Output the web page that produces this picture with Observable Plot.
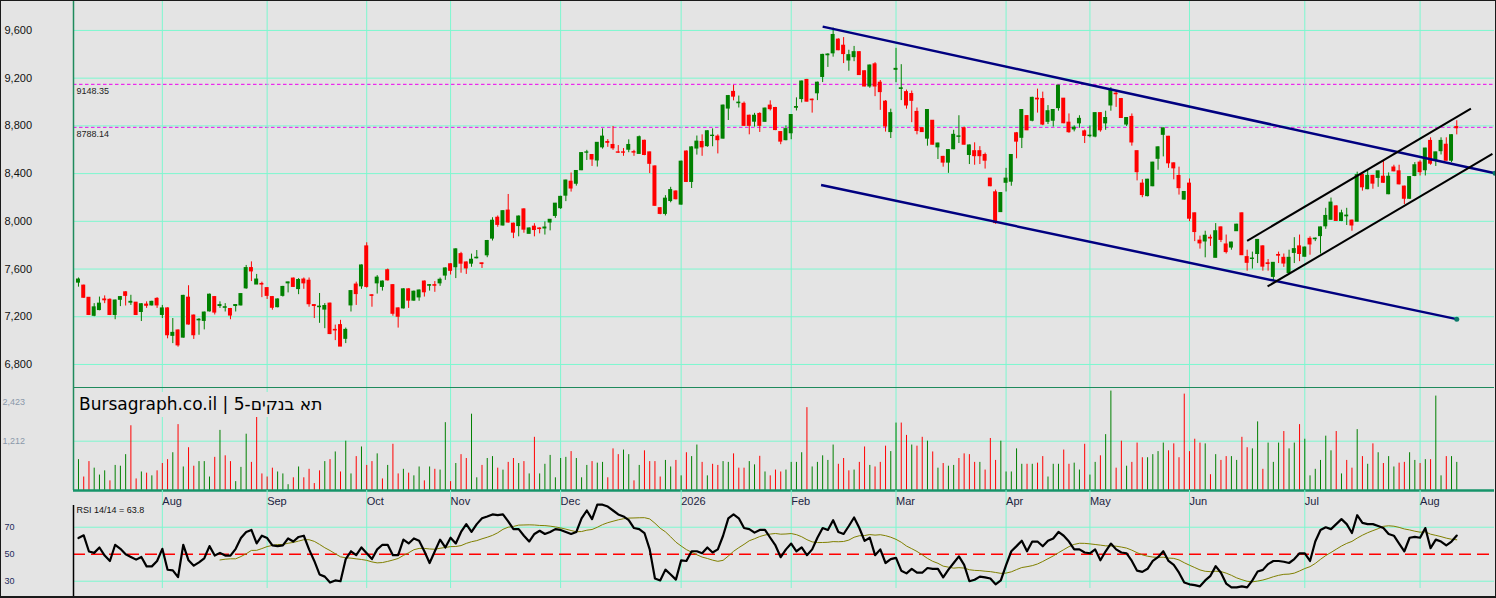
<!DOCTYPE html>
<html><head><meta charset="utf-8">
<script src="https://cdn.jsdelivr.net/npm/d3@7"></script>
<script src="https://cdn.jsdelivr.net/npm/@observablehq/plot@0.6"></script>
<style>
html,body{margin:0;padding:0;background:#E4E4E4;}
#chart{position:relative;width:1496px;height:598px;background:#E4E4E4;overflow:hidden;font-family:"Liberation Sans",Arial,sans-serif;}
#title{position:absolute;left:76px;top:392px;height:25px;line-height:25px;padding:0 3px;background:#E4E4E4;font-size:17px;color:#000;white-space:nowrap;z-index:5;font-family:"DejaVu Sans",sans-serif;}
#frame{position:absolute;left:0;top:0;width:1496px;height:598px;box-sizing:border-box;border:1px solid #1a1a1a;border-bottom-width:2px;pointer-events:none;z-index:6;}
</style></head>
<body><div id="chart"><div id="title"></div><div id="frame"></div></div>
<script>
// ---------------- data ----------------
const titleText = "Bursagraph.co.il | תא בנקים-5";
const monthLabels = ["Aug","Sep","Oct","Nov","Dec","2026","Feb","Mar","Apr","May","Jun","Jul","Aug"];
const monthStart = [16,36,55,71,92,115,136,156,177,193,212,234,256];
const priceTicks = [6800,7200,7600,8000,8400,8800,9200,9600];
const levels = [9148.35, 8788.14];
const volLabels = [2423, 1212];
const rsiTicks = [70, 50, 30];

const openP = [7486,7461,7359,7208,7256,7345,7342,7215,7342,7405,
7318,7318,7240,7302,7295,7350,7215,7270,7040,7085,
7025,7360,7210,7170,7165,7245,7365,7290,7275,7265,
7290,7295,7438,7608,7470,7475,7440,7365,7280,7375,
7480,7520,7432,7512,7502,7298,7280,7260,7310,7090,
7130,7015,7295,7470,7455,7790,7380,7480,7450,7590,
7465,7270,7270,7430,7335,7362,7495,7460,7465,7480,
7545,7640,7615,7725,7655,7645,7690,7648,7715,7855,
8030,7965,8090,7980,7960,8100,7895,7955,7940,7940,
7990,8045,8110,8215,8332,8315,8428,8575,8556,8510,
8620,8665,8640,8578,8578,8600,8580,8565,8675,8578,
8460,8110,8062,8170,8250,8140,8585,8330,8610,8665,
8630,8715,8710,8693,8945,9085,8990,8985,8885,8835,
8900,8834,8970,8950,8748,8680,8738,8952,9025,9185,
9020,9073,9210,9392,9408,9523,9472,9348,9376,9418,
9258,9130,9316,9162,9003,8748,9270,9110,9083,9067,
8917,8780,8693,8843,8620,8540,8492,8604,8708,8780,
8556,8588,8588,8556,8358,8243,8077,8323,8332,8738,
8700,8882,8843,9028,9025,8834,8843,8949,9028,8827,
8770,8821,8754,8714,8710,8907,8821,8971,9070,9025,
8811,8875,8588,8316,8211,8294,8524,8725,8709,8486,
8380,8182,8316,8067,7838,7831,7862,7694,7949,7806,
7780,7917,8067,7700,7684,7726,7790,7648,7534,7718,
7694,7566,7735,7790,7703,7853,7850,7876,7958,8013,
8125,8003,8042,8006,7997,8390,8269,8381,8364,8374,
8227,8451,8419,8291,8189,8380,8492,8428,8674,8508,
8588,8642,8508,8790];

const highP = [7525,7465,7360,7310,7365,7375,7350,7340,7370,7410,
7380,7320,7310,7325,7330,7360,7295,7275,7185,7090,
7380,7460,7215,7185,7240,7390,7370,7325,7310,7270,
7300,7395,7630,7660,7555,7490,7445,7370,7350,7455,
7490,7525,7520,7525,7525,7300,7395,7310,7315,7130,
7170,7105,7420,7490,7635,7820,7385,7545,7500,7600,
7470,7275,7435,7435,7415,7425,7500,7470,7495,7525,
7610,7645,7770,7740,7660,7725,7755,7650,7840,8030,
8045,8090,8225,7985,8045,8105,7945,7980,7945,7995,
8015,8150,8210,8345,8405,8425,8575,8595,8560,8660,
8775,8685,8795,8635,8610,8683,8595,8715,8680,8580,
8465,8115,8215,8285,8255,8505,8590,8625,8715,8725,
8760,8775,8725,8975,9055,9140,9050,9000,8890,8905,
8910,8950,9010,8955,8750,8800,8895,9035,9175,9190,
9025,9167,9400,9405,9620,9530,9540,9434,9466,9420,
9260,9310,9330,9180,9012,8940,9450,9313,9100,9092,
8950,8785,8935,8845,8655,8545,8600,8763,8885,8790,
8640,8658,8626,8572,8360,8262,8240,8444,8560,8745,
8937,8887,9040,9108,9083,8970,8937,9140,9030,8900,
8800,8885,8765,8800,8910,8910,8923,9121,9090,9030,
8870,8900,8590,8349,8352,8495,8625,8782,8712,8490,
8454,8250,8355,8070,7876,7917,7885,7981,7953,7885,
7825,7975,8070,7758,7742,7848,7795,7680,7655,7742,
7726,7758,7863,7885,7785,7870,7860,7952,8109,8195,
8130,8093,8109,8010,8412,8395,8428,8385,8420,8508,
8406,8470,8470,8295,8375,8492,8508,8612,8700,8580,
8700,8700,8725,8843];

const lowP = [7448,7355,7210,7200,7250,7310,7210,7175,7285,7290,
7295,7210,7160,7270,7290,7270,7185,7015,6975,6945,
7020,7130,7010,7045,7090,7240,7215,7270,7240,7175,
7240,7290,7430,7495,7470,7360,7345,7255,7275,7365,
7400,7445,7385,7430,7280,7185,7145,7100,7050,7000,
6950,6975,7240,7295,7430,7440,7280,7390,7415,7500,
7205,7105,7265,7270,7330,7330,7365,7415,7405,7455,
7505,7550,7520,7565,7555,7615,7685,7605,7695,7835,
7950,7960,7985,7855,7870,7900,7895,7870,7895,7885,
7920,8025,8100,8165,8245,8295,8425,8510,8460,8455,
8605,8620,8595,8570,8545,8575,8545,8565,8550,8400,
8125,8055,8045,8155,8180,8135,8325,8275,8555,8545,
8620,8625,8565,8690,8845,9010,8950,8795,8725,8790,
8745,8830,8925,8760,8642,8675,8684,8925,8993,9000,
8907,9012,9163,9290,9376,9430,9322,9258,9338,9222,
9128,9115,9045,8930,8748,8694,9162,9012,8940,8827,
8725,8745,8630,8640,8518,8454,8402,8600,8652,8640,
8476,8470,8476,8438,8290,7975,8075,8246,8294,8524,
8610,8760,8834,8907,8802,8811,8790,8923,8818,8738,
8750,8780,8652,8700,8700,8747,8763,8923,8955,8863,
8795,8630,8339,8198,8205,8290,8428,8540,8444,8348,
8220,8178,7997,7830,7767,7694,7790,7694,7822,7726,
7758,7915,7713,7582,7600,7646,7582,7582,7502,7646,
7614,7566,7646,7662,7700,7716,7830,7726,7933,8010,
8000,7997,7965,7917,7995,8253,8265,8269,8285,8318,
8223,8415,8305,8141,8185,8374,8380,8380,8470,8460,
8556,8505,8492,8725];

const closeP = [7512,7359,7215,7279,7310,7338,7215,7336,7365,7375,
7325,7215,7305,7292,7325,7295,7270,7045,7065,6960,
7375,7135,7045,7175,7235,7385,7235,7298,7280,7210,
7298,7390,7608,7580,7512,7470,7375,7275,7345,7450,
7488,7450,7508,7480,7305,7290,7285,7290,7055,7085,
6950,7090,7415,7390,7630,7450,7375,7528,7495,7505,
7225,7200,7430,7335,7410,7420,7405,7465,7460,7510,
7605,7585,7765,7645,7605,7678,7695,7642,7835,8005,
7970,8085,7990,7905,8040,7930,7940,7927,7935,7948,
8013,8148,8205,8342,8275,8422,8572,8578,8518,8658,
8710,8658,8612,8575,8575,8640,8576,8705,8556,8482,
8130,8062,8190,8262,8185,8500,8330,8620,8668,8620,
8755,8718,8680,8970,9050,9045,8995,8800,8800,8885,
8800,8945,8940,8765,8668,8773,8891,8958,9172,9003,
9015,9162,9395,9398,9562,9434,9402,9393,9418,9226,
9130,9306,9130,9083,8795,8907,9278,9115,8971,9010,
8757,8748,8933,8642,8652,8492,8597,8725,8712,8642,
8636,8546,8546,8508,8294,7985,8237,8358,8556,8668,
8933,8763,9035,9022,8811,8923,8933,9137,8822,8747,
8785,8859,8716,8718,8907,8763,8866,9099,9065,8866,
8866,8661,8412,8220,8349,8492,8620,8779,8486,8444,
8278,8246,8022,7910,7815,7879,7856,7917,7844,7742,
7822,7972,7716,7652,7688,7844,7620,7642,7652,7712,
7646,7694,7767,7726,7780,7806,7855,7949,8045,8157,
8003,8067,8048,7965,8387,8285,8381,8316,8419,8323,
8374,8419,8310,8189,8371,8470,8412,8610,8483,8578,
8674,8508,8722,8780];

const volume = [758,331,710,549,379,483,237,616,597,881,
1591,284,455,426,360,483,663,758,928,1619,
578,1051,597,710,710,331,814,1477,852,710,
218,568,1383,691,1849,407,331,549,455,407,
142,312,578,312,521,170,483,710,758,947,
455,1212,407,833,1070,616,710,900,284,616,
1136,407,521,426,360,578,237,578,521,502,
1667,218,663,881,786,1875,312,616,786,833,
549,500,691,786,663,710,407,1307,407,644,
862,312,786,814,956,786,312,616,710,672,
691,312,1023,881,994,881,237,616,975,710,
710,331,739,578,739,360,928,833,1117,691,
360,644,616,710,691,900,549,549,710,630,
840,455,360,502,455,502,691,691,928,2036,
578,691,852,739,1117,644,786,483,502,691,
1070,616,578,691,1089,956,1657,1657,1354,1117,
1089,1307,1212,947,549,663,597,616,786,900,
881,691,691,502,1278,739,1212,455,455,1023,
644,644,644,672,833,331,644,644,994,644,
672,502,1136,379,691,852,1373,2443,549,1212,
597,691,1165,805,805,881,956,1165,975,1146,
805,2368,956,1260,1165,1146,388,881,739,833,
833,739,1307,1051,1023,1686,521,1165,691,1165,
1449,1023,1165,1619,1260,360,521,739,1335,975,
1449,407,739,549,1496,833,644,1146,928,663,
833,578,672,691,928,739,663,758,758,2320,
360,833,833,691];

const rsi = [62,64,52,51,55,49,45,57,54,50,
48,46,48,41,41,45,54,38.5,38,33,
57,45.5,41.5,44,47,56,49,51,49,49,
54,62,66.5,68,58,63.7,62,56.5,56,56.5,
61.7,59.4,62.8,63.7,53.6,45,35,33.4,29,30.6,
30,46.4,52.2,49.3,55,50.7,46.4,53.6,57,57,
49.3,49.3,60.8,58,61.7,60,52.2,43.5,52.2,60.8,
55,62.2,58,66.5,72.3,66.5,72.3,76.6,78,79.5,
79,79.5,74.3,68.6,68.6,63.7,59.4,65,67.4,65,
66.5,68.6,68,66.5,65,66.5,76.6,82.4,76,86.7,
86.7,85.3,82.4,79.5,78,75.2,69.4,68.6,65.7,53.6,
32,30.6,38.6,35,31.2,45.5,45,52.2,52.2,50.7,
55,51.3,53.6,63.7,76.6,79.5,76.6,69.4,68.6,66,
68,68,62.2,56.5,47.8,53.6,57.9,52.2,55,49.3,
53.6,62.2,69.4,68,75.2,66.5,65,70.9,77.2,69.4,
59.9,62.2,49.3,53.6,43.5,46.4,47.3,37.8,35.8,39.2,
36.3,36.3,39.8,39.2,39.2,32.9,38.6,43.5,48.4,42.1,
30,31.1,33.4,32.9,32,27.7,30.6,42,52.2,56,
60,52.2,59.4,59.4,55.9,60,61.7,66.5,63.7,59.4,
53.6,53.6,51.3,50.7,53.6,45.5,52.2,57.9,53.6,51.3,
50.7,45,37.8,36.9,39.2,45,47.8,52.2,45,42.1,
36.3,29,27.7,27.1,26.2,30.6,34,41.2,36.3,28.3,
25.4,25.4,26.2,25.4,30.6,37.2,38.4,42.7,45,45,
44.4,43.5,46.4,50.7,50.7,45,59.4,68,70,68.6,
72.3,76,72.3,65.7,78.9,73.2,72.3,72.3,70.9,69.4,
65,63.7,57.9,52.2,62.2,62.8,62.2,69.4,54.5,60.8,
59.4,56.5,59.4,63.8];

// trend lines drawn on the chart (bar index, price)
const blueChannel = [
  {x1: 142.0, y1: 9632, x2: 270.3, y2: 8403},
  {x1: 141.7, y1: 8304, x2: 263.0, y2: 7180}
];
const blackChannel = [
  {x1: 223.0, y1: 7837, x2: 265.7, y2: 8945},
  {x1: 226.9, y1: 7454, x2: 269.8, y2: 8565}
];

// ---------------- build ----------------
const W = 1496;
const FONT = "'Liberation Sans', Arial, sans-serif";
const GRID = "#7DF7CF";
const GREEN = "#008000", RED = "#FF0000";
const NAVY = "#000080";
const BORDER = "#1F8A5C";
const xDom = [-0.95, 270.2];
const priceDom = [6607, 9851];
const volDom = [0, 2531];
const rsiDom = [17.2, 86.1];

const n = closeP.length;
const candles = d3.range(n).map(i => ({
  i, open: openP[i], high: highP[i], low: lowP[i], close: closeP[i],
  up: closeP[i] >= openP[i],
  vUp: i === 0 || closeP[i] >= closeP[i - 1],
  v: volume[i], rsi: rsi[i]
}));
const sig = candles.map(d => ({i: d.i, s: d.i >= 27 ? d3.mean(rsi.slice(d.i - 13, d.i + 1)) : NaN}));
const months = monthStart.map((i, k) => ({i, label: monthLabels[k]}));
const fmt = d3.format(",");
const baseStyle = {background: "transparent", overflow: "visible", fontFamily: FONT, fontSize: "11px"};

const upC = candles.filter(d => d.up), dnC = candles.filter(d => !d.up);

const pricePlot = Plot.plot({
  width: W, height: 387, marginLeft: 73, marginRight: 2, marginTop: 0, marginBottom: 0,
  style: baseStyle,
  x: {domain: xDom, axis: null},
  y: {domain: priceDom, axis: null},
  marks: [
    Plot.ruleY(levels, {stroke: "#EE00EE", strokeDasharray: "3.5,2.5"}),
    Plot.ruleY(priceTicks, {stroke: GRID}),
    Plot.ruleX(monthStart, {stroke: GRID}),
    Plot.text(levels, {y: d => d, text: d => d.toFixed(2), frameAnchor: "left", dx: 3, dy: 6.5,
      textAnchor: "start", lineAnchor: "middle", fontSize: 9, fill: "#222"}),
    Plot.ruleX(upC, {x: "i", y1: "low", y2: "high", stroke: GREEN}),
    Plot.ruleX(dnC, {x: "i", y1: "low", y2: "high", stroke: RED}),
    Plot.rect(upC, {x1: d => d.i - 0.38, x2: d => d.i + 0.38, y1: "open", y2: "close", fill: GREEN, insetTop: -0.5, insetBottom: -0.5}),
    Plot.rect(dnC, {x1: d => d.i - 0.38, x2: d => d.i + 0.38, y1: "open", y2: "close", fill: RED, insetTop: -0.5, insetBottom: -0.5}),
    Plot.link(blueChannel, {x1: "x1", y1: "y1", x2: "x2", y2: "y2", stroke: NAVY, strokeWidth: 2.5}),
    Plot.dot(blueChannel, {x: "x2", y: "y2", r: 2.5, fill: "#0C7A6A", stroke: null}),
    Plot.link(blackChannel, {x1: "x1", y1: "y1", x2: "x2", y2: "y2", stroke: "#000", strokeWidth: 2}),
    Plot.ruleX([xDom[0]], {stroke: BORDER, strokeWidth: 1.5}),
    Plot.text(priceTicks, {y: d => d, text: d => fmt(d), frameAnchor: "left", dx: -69,
      textAnchor: "start", lineAnchor: "middle", fontSize: 11, fill: "#111"})
  ]
});

const upV = candles.filter(d => d.vUp), dnV = candles.filter(d => !d.vUp);
const volPlot = Plot.plot({
  width: W, height: 103, marginLeft: 73, marginRight: 2, marginTop: 0, marginBottom: 0,
  style: baseStyle,
  x: {domain: xDom, axis: null},
  y: {domain: volDom, axis: null},
  marks: [
    Plot.ruleY([volLabels[1]], {stroke: GRID}),
    Plot.ruleX(monthStart, {stroke: GRID}),
    Plot.ruleX(upV, {x: "i", y1: 0, y2: "v", stroke: GREEN}),
    Plot.ruleX(dnV, {x: "i", y1: 0, y2: "v", stroke: RED}),
    Plot.ruleY([volDom[0]], {stroke: "#16946A", strokeWidth: 2.5}),
    Plot.ruleY([volDom[1]], {stroke: BORDER, strokeWidth: 1.2}),
    Plot.ruleX([xDom[0]], {stroke: BORDER, strokeWidth: 1.5}),
    Plot.text([volLabels[0]], {y: d => d, text: d => fmt(d), frameAnchor: "left", dx: -71, dy: 10,
      textAnchor: "start", lineAnchor: "middle", fontSize: 9, fill: "#8A98AA"}),
    Plot.text([volLabels[1]], {y: d => d, text: d => fmt(d), frameAnchor: "left", dx: -71,
      textAnchor: "start", lineAnchor: "middle", fontSize: 9, fill: "#8A98AA"})
  ]
});

const rsiPlot = Plot.plot({
  width: W, height: 108, marginLeft: 73, marginRight: 2, marginTop: 15, marginBottom: 0,
  style: baseStyle,
  x: {domain: xDom, axis: null},
  y: {domain: rsiDom, axis: null},
  marks: [
    Plot.ruleY([rsiTicks[0], rsiTicks[2]], {stroke: GRID}),
    Plot.ruleX(monthStart, {stroke: GRID, insetTop: -15, insetBottom: 10}),
    Plot.ruleY([rsiTicks[1]], {stroke: "#FF0000", strokeDasharray: "12,6", strokeWidth: 1.5}),
    Plot.line(sig, {x: "i", y: "s", stroke: "#808000", strokeWidth: 1}),
    Plot.line(candles, {x: "i", y: "rsi", stroke: "#000", strokeWidth: 2.2}),
    Plot.ruleX([xDom[0]], {stroke: "#000", strokeWidth: 1.5}),
    Plot.text(months, {x: "i", text: "label", frameAnchor: "top", dy: -4.5,
      textAnchor: "start", lineAnchor: "middle", fontSize: 11, fill: "#1B2340"}),
    Plot.text(rsiTicks, {y: d => d, text: d => String(d), frameAnchor: "left", dx: -69,
      textAnchor: "start", lineAnchor: "middle", fontSize: 9, fill: "#1C2A5A"}),
    Plot.text([`RSI 14/14 = ${rsi[n - 1]}`], {text: d => d, frameAnchor: "top-left", dx: 3, dy: 5,
      textAnchor: "start", lineAnchor: "middle", fontSize: 9, fill: "#111"})
  ]
});

const chart = document.getElementById("chart");
function place(svg, top) {
  svg.style.position = "absolute";
  svg.style.left = "0px";
  svg.style.top = top + "px";
  svg.style.maxWidth = "none";
  chart.insertBefore(svg, document.getElementById("title"));
}
place(pricePlot, 0);
place(volPlot, 387);
place(rsiPlot, 490);
document.getElementById("title").textContent = titleText;
</script>
</body></html>
